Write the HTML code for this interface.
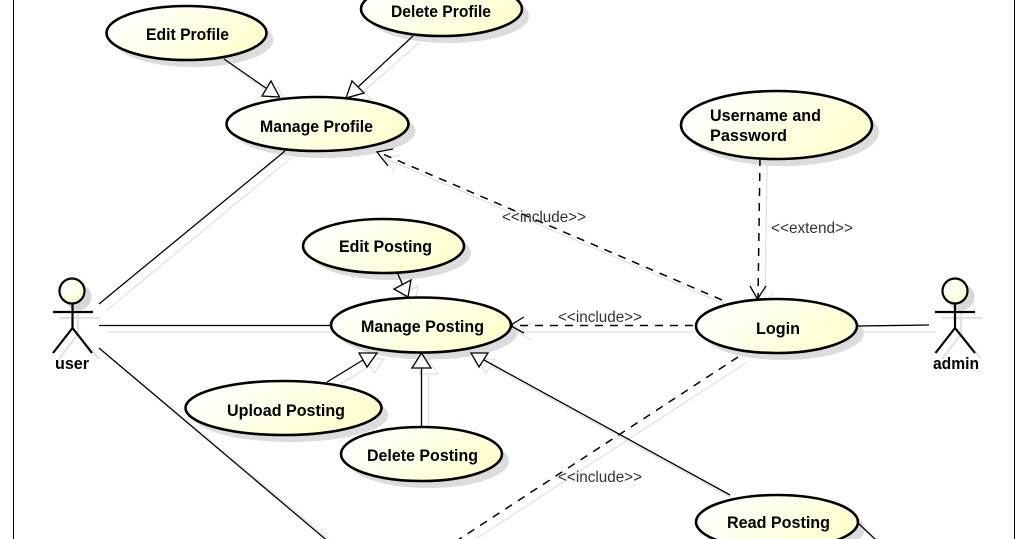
<!DOCTYPE html>
<html>
<head>
<meta charset="utf-8">
<style>
html,body{margin:0;padding:0;background:#fff;width:1028px;height:539px;overflow:hidden}
svg{display:block}
text{font-family:"Liberation Sans",Arial,sans-serif}
.t{font-size:17px;font-weight:bold;fill:#000;stroke:none}
.l{font-size:15.5px;fill:#333;stroke:none}
.s{stroke:#e2e2e2;fill:none;stroke-width:1.3}
.k{stroke:#000;fill:none;stroke-width:1.3}
.d{stroke-dasharray:8 7;stroke-width:1.5}
.e{stroke:#000;stroke-width:2.6;fill:url(#g)}
.es{fill:#dcdcdc;stroke:none}
.tr{fill:#fff;stroke:#000;stroke-width:1.3}
.trs{fill:#fff;stroke:#e2e2e2;stroke-width:1.3}
.a{stroke:#000;fill:none;stroke-width:2.2}
.as{stroke:#e2e2e2;fill:none;stroke-width:2.2}
</style>
</head>
<body>
<svg width="1028" height="539" viewBox="0 0 1028 539" xmlns="http://www.w3.org/2000/svg">
<defs>
<linearGradient id="g" x1="0" y1="0.3" x2="1" y2="0.7">
<stop offset="0" stop-color="#ffffff"/>
<stop offset="1" stop-color="#ffffcc"/>
</linearGradient>
<radialGradient id="h" cx="0.3" cy="0.3" r="0.9">
<stop offset="0" stop-color="#ffffff"/>
<stop offset="1" stop-color="#ffffcc"/>
</radialGradient>
</defs>
<rect width="1028" height="539" fill="#fff"/>
<line x1="13.5" y1="0" x2="13.5" y2="539" stroke="#000" stroke-width="1"/>
<line x1="1014.5" y1="0" x2="1014.5" y2="539" stroke="#000" stroke-width="1"/>

<!-- connector shadows -->
<g class="s">
<line x1="231" y1="66" x2="273" y2="95"/>
<polygon class="trs" points="286,103 278,87 269,102"/>
<line x1="420" y1="42" x2="364" y2="91"/>
<polygon class="trs" points="353,104 359,87 371,99"/>
<line x1="292" y1="157" x2="106" y2="311"/>
<line x1="106" y1="332" x2="338" y2="332"/>
<line x1="106" y1="354" x2="337" y2="546"/>
<line x1="384" y1="158" x2="729" y2="306"/>
<polyline points="400,155 384,158 395,172"/>
<line x1="700" y1="332" x2="518" y2="332"/>
<polyline points="531,323 517,331 531,340"/>
<line x1="767" y1="165" x2="765" y2="305"/>
<polyline points="757,292 765,305 773,292"/>
<line x1="747" y1="362" x2="465" y2="546"/>
<line x1="404" y1="278" x2="409" y2="291"/>
<polygon class="trs" points="418,286 401,295 415,303"/>
<line x1="334" y1="388" x2="370" y2="366"/>
<polygon class="trs" points="366,359 384,359 374,373"/>
<line x1="428.5" y1="374" x2="428.5" y2="433"/>
<polygon class="trs" points="428,359 419,374 438,374"/>
<line x1="737" y1="501" x2="491" y2="366"/>
<polygon class="trs" points="478,359 495,359 486,373"/>
<line x1="858" y1="332" x2="936" y2="332"/>
<line x1="865" y1="529" x2="882" y2="546"/>
</g>

<!-- ellipse shadows -->
<ellipse class="es" cx="193.5" cy="40" rx="80" ry="27"/>
<ellipse class="es" cx="448.5" cy="16" rx="80.5" ry="27"/>
<ellipse class="es" cx="324.5" cy="131" rx="91" ry="27"/>
<ellipse class="es" cx="783.5" cy="132" rx="95.5" ry="34"/>
<ellipse class="es" cx="390.5" cy="253" rx="80.5" ry="27"/>
<ellipse class="es" cx="428" cy="332" rx="90" ry="27.5"/>
<ellipse class="es" cx="783.5" cy="333" rx="80.5" ry="27"/>
<ellipse class="es" cx="290.5" cy="415" rx="98" ry="27"/>
<ellipse class="es" cx="428.5" cy="461" rx="80.5" ry="27"/>
<ellipse class="es" cx="784" cy="529" rx="81" ry="27"/>

<!-- connectors -->
<g class="k">
<line x1="224" y1="59" x2="266.5" y2="88.5"/>
<polygon class="tr" points="279.5,97 271,81 262,96"/>
<line x1="413" y1="36" x2="358" y2="87"/>
<polygon class="tr" points="346,98 352,81 364,93"/>
<line x1="285" y1="151" x2="99" y2="304"/>
<line x1="99" y1="325.5" x2="331" y2="325.5"/>
<line x1="99" y1="348" x2="330" y2="543"/>
<line class="d" x1="722" y1="300" x2="378" y2="152"/>
<polyline points="393,149 377,152 388,166"/>
<line class="d" x1="693" y1="325.5" x2="512" y2="325.5"/>
<polyline points="524,317 510,325.5 524,333"/>
<line class="d" x1="760" y1="158" x2="758" y2="298"/>
<polyline points="750,286 757.5,299 766,286"/>
<line class="d" x1="738" y1="357" x2="458" y2="540"/>
<line x1="397" y1="272" x2="402.5" y2="284.5"/>
<polygon class="tr" points="411,280 394,289 408,297"/>
<line x1="327" y1="382" x2="363" y2="360"/>
<polygon class="tr" points="359,353 377,353 367,367"/>
<line x1="421.5" y1="368" x2="421.5" y2="427"/>
<polygon class="tr" points="421.5,353 412,368 431,368"/>
<line x1="730" y1="495" x2="484" y2="360"/>
<polygon class="tr" points="471,353 488,353 479,367"/>
<line x1="858" y1="326" x2="929" y2="325"/>
<line x1="858" y1="523" x2="876" y2="540"/>
</g>

<!-- ellipses -->
<ellipse class="e" cx="186.5" cy="33" rx="80" ry="27"/>
<ellipse class="e" cx="441.5" cy="9" rx="80.5" ry="27"/>
<ellipse class="e" cx="317.5" cy="124" rx="91" ry="27"/>
<ellipse class="e" cx="776.5" cy="125" rx="95.5" ry="34"/>
<ellipse class="e" cx="383.5" cy="246" rx="80.5" ry="27"/>
<ellipse class="e" cx="421" cy="325" rx="90" ry="27.5"/>
<ellipse class="e" cx="776.5" cy="326" rx="80.5" ry="27"/>
<ellipse class="e" cx="283.5" cy="408" rx="98" ry="27"/>
<ellipse class="e" cx="421.5" cy="454" rx="80.5" ry="27"/>
<ellipse class="e" cx="777" cy="522" rx="81" ry="27"/>

<!-- user actor -->
<circle cx="78" cy="297" r="13.5" fill="#d8d8d8"/>
<g class="as">
<line x1="59" y1="318" x2="100" y2="318"/>
<line x1="78" y1="309" x2="78" y2="334"/>
<polyline points="59,359 78,334 99,359"/>
</g>
<g class="a">
<circle cx="72" cy="291" r="12.5" fill="url(#h)"/>
<line x1="53" y1="312" x2="93" y2="312"/>
<line x1="72.5" y1="303" x2="72.5" y2="328"/>
<polyline points="53,353 72.5,328 92,353"/>
</g>

<!-- admin actor -->
<circle cx="961" cy="297" r="13.5" fill="#d8d8d8"/>
<g class="as">
<line x1="942" y1="318" x2="982" y2="318"/>
<line x1="961" y1="309" x2="961" y2="334"/>
<polyline points="942,359 961,334 981,359"/>
</g>
<g class="a">
<circle cx="955" cy="291" r="12.5" fill="url(#h)"/>
<line x1="935" y1="312" x2="975" y2="312"/>
<line x1="955" y1="303" x2="955" y2="328"/>
<polyline points="935.5,353 955,328 975,353"/>
</g>

<!-- text -->
<text class="t" x="146" y="40" textLength="83" lengthAdjust="spacingAndGlyphs">Edit Profile</text>
<text class="t" x="391" y="17" textLength="100" lengthAdjust="spacingAndGlyphs">Delete Profile</text>
<text class="t" x="260" y="132" textLength="113" lengthAdjust="spacingAndGlyphs">Manage Profile</text>
<text class="t" x="710" y="121" textLength="111" lengthAdjust="spacingAndGlyphs">Username and</text>
<text class="t" x="710" y="141" textLength="77" lengthAdjust="spacingAndGlyphs">Password</text>
<text class="t" x="339" y="252" textLength="93" lengthAdjust="spacingAndGlyphs">Edit Posting</text>
<text class="t" x="361" y="332" textLength="123" lengthAdjust="spacingAndGlyphs">Manage Posting</text>
<text class="t" x="756" y="334" textLength="44" lengthAdjust="spacingAndGlyphs">Login</text>
<text class="t" x="227" y="416" textLength="118" lengthAdjust="spacingAndGlyphs">Upload Posting</text>
<text class="t" x="367" y="461" textLength="111" lengthAdjust="spacingAndGlyphs">Delete Posting</text>
<text class="t" x="727" y="528" textLength="103" lengthAdjust="spacingAndGlyphs">Read Posting</text>
<text class="t" x="55" y="369" textLength="34" lengthAdjust="spacingAndGlyphs">user</text>
<text class="t" x="933" y="369" textLength="46" lengthAdjust="spacingAndGlyphs">admin</text>

<text class="l" x="502" y="222" textLength="84" lengthAdjust="spacingAndGlyphs">&lt;&lt;include&gt;&gt;</text>
<text class="l" x="558" y="322" textLength="84" lengthAdjust="spacingAndGlyphs">&lt;&lt;include&gt;&gt;</text>
<text class="l" x="558" y="482" textLength="84" lengthAdjust="spacingAndGlyphs">&lt;&lt;include&gt;&gt;</text>
<text class="l" x="771" y="233" textLength="82" lengthAdjust="spacingAndGlyphs">&lt;&lt;extend&gt;&gt;</text>
</svg>
</body>
</html>
